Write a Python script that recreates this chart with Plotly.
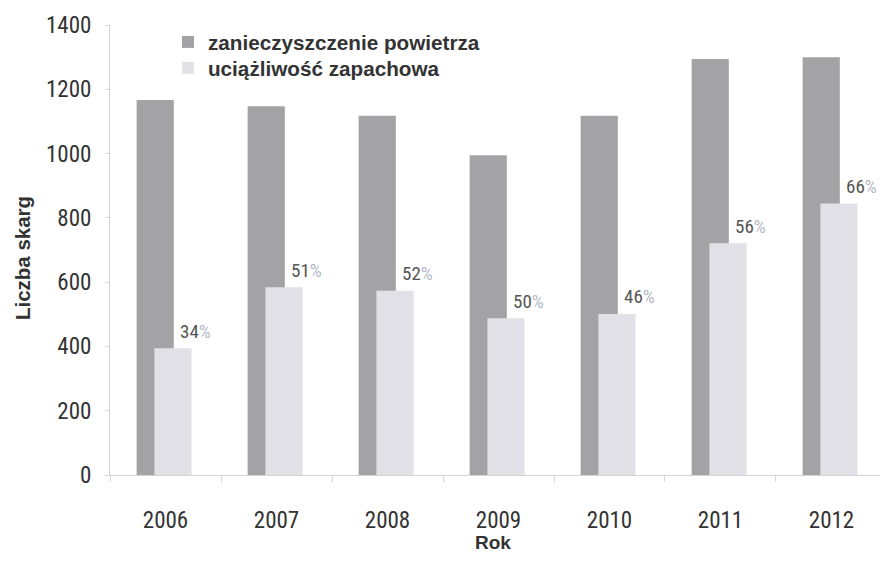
import plotly.graph_objects as go

years = ["2006", "2007", "2008", "2009", "2010", "2011", "2012"]
air_pollution = [1167, 1147, 1118, 995, 1118, 1294, 1300]
odour = [394, 584, 573, 488, 501, 721, 845]
odour_share = ["34", "51", "52", "50", "46", "56", "66"]

series_names = ["zanieczyszczenie powietrza", "uciążliwość zapachowa"]
y_title = "Liczba skarg"
x_title = "Rok"

NARROW = "Liberation Sans Narrow, Arial Narrow, Roboto Condensed, sans-serif"
BOLD = "Liberation Sans, Arial, sans-serif"

fig = go.Figure()
fig.add_trace(go.Bar(
    x=years, y=air_pollution, name=series_names[0],
    marker=dict(color="#a3a3a5", line=dict(width=0)),
    width=0.335, offset=-0.26, legend="legend",
))
fig.add_trace(go.Bar(
    x=years, y=odour, name=series_names[1],
    marker=dict(color="#e1e1e7", line=dict(width=0)),
    width=0.335, offset=-0.10, legend="legend2",
))

for i, (v, p) in enumerate(zip(odour, odour_share)):
    fig.add_annotation(
        x=i + 0.27, y=v, xref="x", yref="y",
        text=f"{p}<span style='color:#b4b8c6'>%</span>",
        showarrow=False, yshift=17,
        font=dict(family=NARROW, size=19, color="#555555"),
    )

# axis titles
fig.add_annotation(
    text=x_title, xref="paper", yref="paper", x=0.497, y=-0.149,
    showarrow=False, xanchor="center", yanchor="middle",
    font=dict(family=BOLD, size=19, color="#333333", weight="bold"),
)
fig.add_annotation(
    text=y_title, xref="paper", yref="paper", x=-0.1143, y=0.482,
    showarrow=False, xanchor="center", yanchor="middle", textangle=-90,
    font=dict(family=BOLD, size=20.5, color="#333333", weight="bold"),
)

legend_style = dict(
    font=dict(family=BOLD, size=20.7, color="#333333", weight="bold"),
    bgcolor="rgba(0,0,0,0)", itemwidth=30, xanchor="left", yanchor="top",
)

fig.update_layout(
    width=880, height=570,
    margin=dict(l=110, r=0, t=25, b=95),
    paper_bgcolor="white", plot_bgcolor="white",
    barmode="overlay",
    showlegend=True,
    legend=dict(x=0.0753, y=1.0067, **legend_style),
    legend2=dict(x=0.0753, y=0.949, **legend_style),
    xaxis=dict(
        type="category", range=[-0.5, 6.437],
        showline=True, linecolor="#d4d4d4", linewidth=1,
        ticks="outside", tickson="boundaries", ticklen=6, tickcolor="#d8d8d8",
        tickfont=dict(family=NARROW, size=23, color="#333333"),
        ticklabelstandoff=24,
        showgrid=False, zeroline=False,
    ),
    yaxis=dict(
        range=[0, 1400], dtick=200,
        showline=True, linecolor="#d4d4d4", linewidth=1,
        ticks="outside", ticklen=4, tickcolor="#d8d8d8",
        tickfont=dict(family=NARROW, size=23, color="#333333"),
        ticklabelstandoff=9,
        showgrid=False, zeroline=False,
    ),
)

fig.write_html(
    "out.html",
    config={"displayModeBar": False},
    post_script="document.body.style.margin='0px';",
)
